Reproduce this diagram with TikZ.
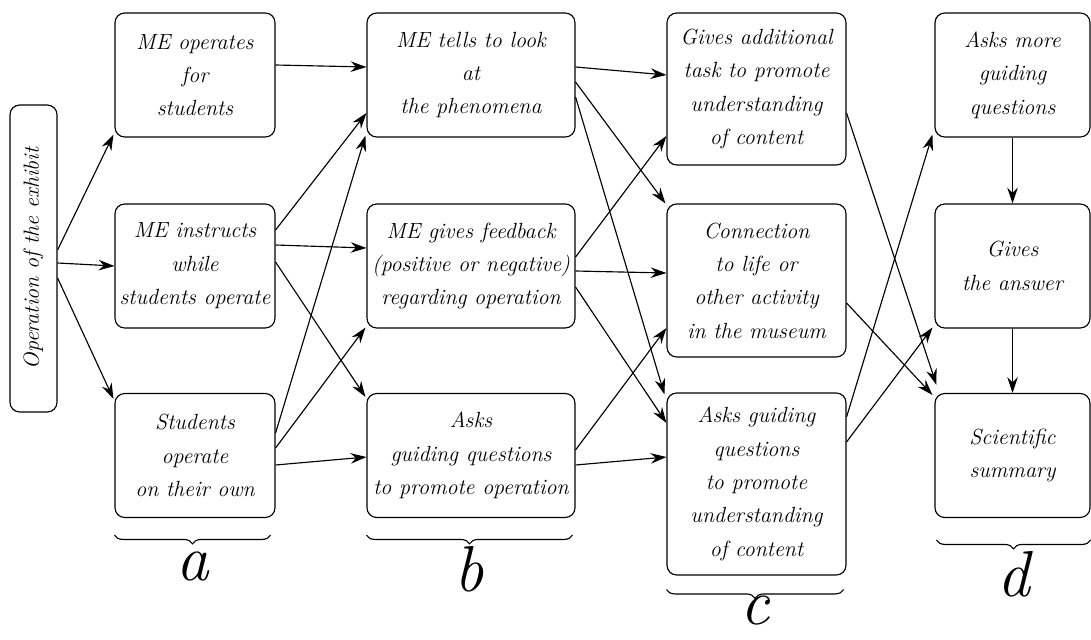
\documentclass[tikz,border=0pt]{standalone}
\usepackage{tikz}
\usetikzlibrary{arrows.meta,calc,decorations.pathreplacing}

\tikzset{
	stagebox/.style={draw, line width=0.65pt, rounded corners=5.5pt, align=center, inner sep=2pt,
		font=\fontsize{12.5}{19}\selectfont\itshape, minimum height=2.48cm},
	colA/.style={stagebox, minimum width=3.2cm},
	colB/.style={stagebox, minimum width=4.16cm},
	colC/.style={stagebox, minimum width=3.58cm},
	colD/.style={stagebox, minimum width=3.1cm},
	link/.style={-{Stealth[length=9pt,width=6pt,inset=3pt]}, line width=0.65pt},
	bracemark/.style={decorate, decoration={brace, mirror, amplitude=5pt}, line width=0.65pt},
	bracelabel/.style={font=\fontsize{37}{40}\selectfont\itshape, inner sep=0pt}
}

\begin{document}
\begin{tikzpicture}[x=0.02cm, y=-0.02cm]
	\useasboundingbox (0,0) rectangle (1091,639);

	%% start
	\node[stagebox, rotate=90, minimum width=6.14cm, minimum height=0.94cm] (op) at (33.5,258.5) {Operation of the exhibit};

	%% column a
	\node[colA] (a1) at (195,75) {ME operates\\for\\students};
	\node[colA] (a2) at (195,266) {ME instructs\\while\\students operate};
	\node[colA] (a3) at (195,455.5) {Students\\operate\\on their own};

	%% column b
	\node[colB] (b1) at (471,75) {ME tells to look\\at\\the phenomena};
	\node[colB] (b2) at (471,266) {ME gives feedback\\(positive or negative)\\regarding operation};
	\node[colB] (b3) at (471,455.5) {Asks\\guiding questions\\to promote operation};

	%% column c
	\node[colC, minimum height=3.04cm] (c1) at (756.5,89) {Gives additional\\task to promote\\understanding\\of content};
	\node[colC, minimum height=3.06cm] (c2) at (756.5,280.5) {Connection\\to life or\\other activity\\in the museum};
	\node[colC, minimum height=3.64cm] (c3) at (756.5,484) {Asks guiding\\questions\\to promote\\understanding\\of content};

	%% column d
	\node[colD] (d1) at (1012.5,75) {Asks more\\guiding\\questions};
	\node[colD] (d2) at (1012.5,266) {Gives\\the answer};
	\node[colD] (d3) at (1012.5,455.5) {Scientific\\summary};

	%% start -> a
	\draw[link] ($(op.south)+(0,-8.5)$) -- ($(a1.south west)+(-1,-3)$);
	\draw[link] ($(op.south)+(0,4.5)$) -- (a2.west);
	\draw[link] ($(op.south)+(0,19.5)$) -- ($(a3.north west)+(-1,6)$);

	%% a -> b
	\draw[link] ($(a1.east)+(0,-10)$) -- ($(b1.west)+(0,-8)$);
	\draw[link] ($(a2.east)+(0,-36)$) -- ($(b1.west)+(0,38)$);
	\draw[link] ($(a2.east)+(0,-21)$) -- ($(b2.west)+(0,-18)$);
	\draw[link] ($(a2.east)+(0,-4)$) -- ($(b3.north west)+(-1,4)$);
	\draw[link] ($(a3.east)+(0,-22.5)$) -- ($(b1.south west)+(-1,-2)$);
	\draw[link] ($(a3.east)+(0,-7.5)$) -- ($(b2.south west)+(-1,-1)$);
	\draw[link] ($(a3.east)+(0,9.5)$) -- ($(b3.west)+(0,1.5)$);

	%% b -> c
	\draw[link] ($(b1.east)+(0,-8)$) -- ($(c1.west)+(0,-14)$);
	\draw[link] ($(b1.east)+(0,7)$) -- ($(c2.north west)+(-1,0)$);
	\draw[link] ($(b1.east)+(0,22)$) -- ($(c3.north west)+(-2,2)$);
	\draw[link] ($(b2.east)+(0,-9)$) -- ($(c1.west)+(0,47)$);
	\draw[link] ($(b2.east)+(0,5)$) -- ($(c2.west)+(0,-7.5)$);
	\draw[link] ($(b2.east)+(0,21)$) -- ($(c3.west)+(0,-61)$);
	\draw[link] ($(b3.east)+(0,-5.5)$) -- ($(c2.west)+(0,47.5)$);
	\draw[link] ($(b3.east)+(0,9.5)$) -- ($(c3.west)+(0,-27)$);

	%% c -> d
	\draw[link] ($(c1.east)+(0,24)$) -- ($(d3.north west)+(2,-8)$);
	\draw[link] ($(c2.east)+(0,22.5)$) -- ($(d3.north west)+(-2,2)$);
	\draw[link] ($(c3.east)+(0,-67)$) -- ($(d1.south west)+(-2,-3)$);
	\draw[link] ($(c3.east)+(0,-42)$) -- ($(d2.south west)+(-2,-1)$);
	\draw[link] (d1.south) -- (d2.north);
	\draw[link] (d2.south) -- (d3.north);

	%% braces
	\draw[bracemark] ($(a3.south west)+(0,17)$) -- ($(a3.south east)+(-5,17)$)
		node[bracelabel, midway, below=9pt] (la) {a};
	\draw[bracemark] ($(b3.south west)+(0,17)$) -- ($(b3.south east)+(-3,17)$)
		node[bracelabel, midway, below=6pt] (lb) {b};
	\draw[bracemark] ($(c3.south west)+(0,14)$) -- ($(c3.south east)+(-3,14)$)
		node[bracelabel, midway, below=3pt] (lc) {c};
	\draw[bracemark] ($(d3.south west)+(2,22)$) -- ($(d3.south east)+(0,22)$)
		node[bracelabel, midway, below=6pt] (ld) {d};
\end{tikzpicture}
\end{document}
